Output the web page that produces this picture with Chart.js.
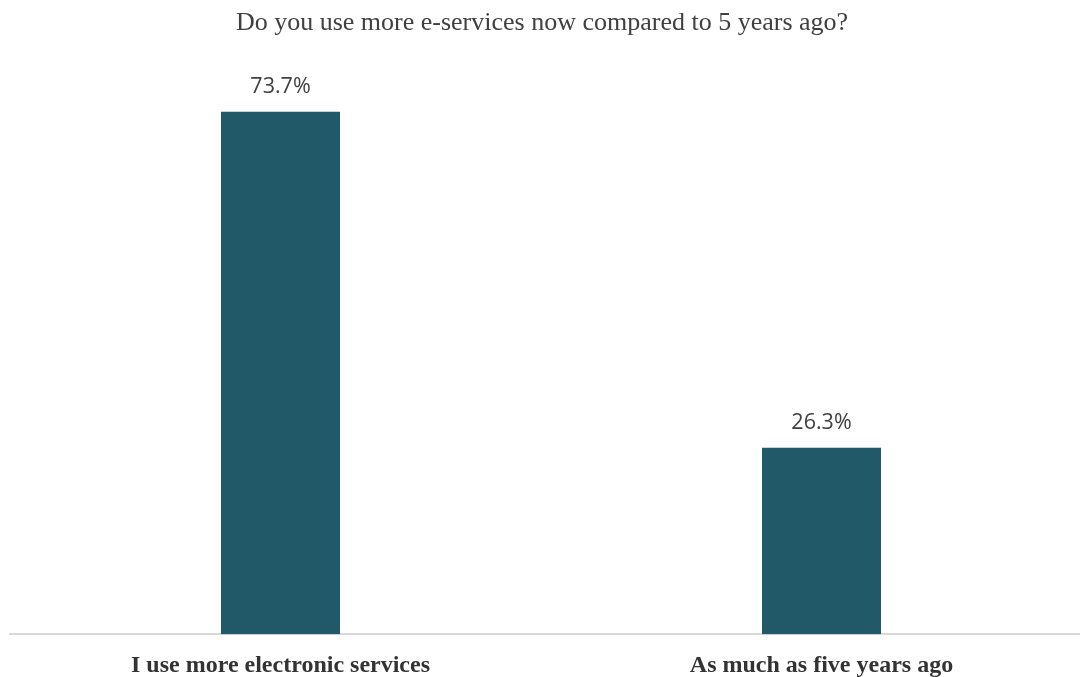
<!DOCTYPE html>
<html>
<head>
<meta charset="utf-8">
<script src="https://cdn.jsdelivr.net/npm/chart.js@4"></script>
<style>
    html, body { margin: 0; padding: 0; background: #ffffff; overflow: hidden; }
    #wrap { width: 1080px; height: 677px; overflow: hidden; }
</style>
</head>
<body>
<div id="wrap"><canvas id="eServicesChart" width="1092" height="677"></canvas></div>
<script>
const chartTitle = 'Do you use more e-services now compared to 5 years ago?';
const categories = ['I use more electronic services', 'As much as five years ago'];
const shares = [73.7, 26.3];

document.addEventListener('DOMContentLoaded', function () {
    const canvas = document.getElementById('eServicesChart');

    // title centred on the visible 1080px page, and value labels over each bar
    const annotations = {
        id: 'annotations',
        afterDatasetsDraw: function (chart) {
            const ctx = chart.ctx;
            ctx.save();
            ctx.fillStyle = '#404040';
            ctx.textAlign = 'center';
            ctx.textBaseline = 'middle';
            ctx.font = "26px 'Liberation Serif', serif";
            ctx.fillText(chartTitle, 542, 23);

            ctx.font = "21.5px 'Open Sans', sans-serif";
            chart.getDatasetMeta(0).data.forEach(function (bar, i) {
                ctx.fillText(shares[i].toFixed(1) + '%', bar.x, bar.y - 25);
            });
            ctx.restore();
        }
    };

    new Chart(canvas, {
        type: 'bar',
        data: {
            labels: categories,
            datasets: [
                {
                    data: shares,
                    backgroundColor: '#225968',
                    barPercentage: 0.22,
                    categoryPercentage: 1
                }
            ]
        },
        options: {
            responsive: false,
            animation: false,
            layout: {
                padding: { top: 67, left: 10, right: 0, bottom: -12 }
            },
            scales: {
                x: {
                    grid: { display: false },
                    border: { color: '#d9d9d9', width: 2 },
                    ticks: {
                        color: '#333333',
                        padding: 9,
                        font: { family: "'Liberation Serif', serif", size: 24, weight: 'bold' }
                    }
                },
                y: {
                    display: false,
                    min: 0,
                    max: 80
                }
            },
            plugins: {
                legend: { display: false },
                tooltip: { enabled: false }
            }
        },
        plugins: [annotations]
    });
});
</script>
</body>
</html>
